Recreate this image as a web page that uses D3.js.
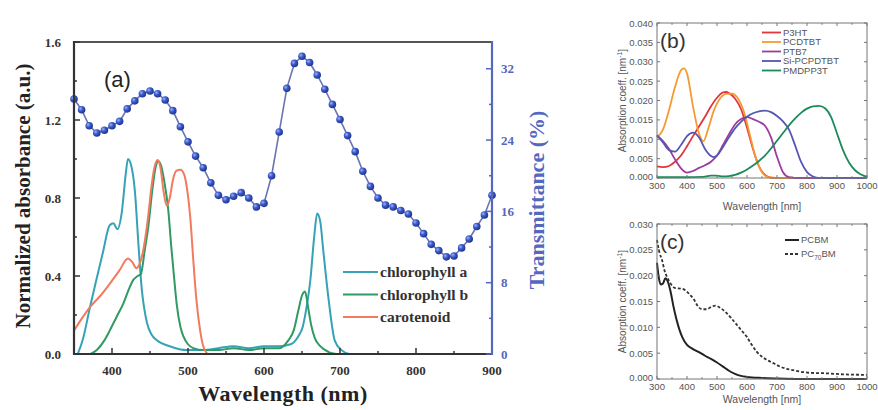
<!DOCTYPE html>
<html>
<head>
<meta charset="utf-8">
<script src="https://cdn.jsdelivr.net/npm/d3@7"></script>
<style>
  body { margin: 0; background: #fff; }
  svg { display: block; }
</style>
</head>
<body>
<div id="chart"></div>
<script>
/* DATA */
// panel (a): absorbance of pigments (wavelength nm, normalized absorbance)
const chlA = [[355,0],[362,0.08],[371,0.24],[380,0.39],[388,0.52],[397,0.66],[402,0.67],[407,0.64],[413,0.73],[418,0.92],[421,1.0],[425,0.97],[430,0.84],[435,0.55],[439,0.34],[446,0.16],[452,0.1],[459,0.07],[476,0.04],[498,0.02],[520,0.02],[540,0.03],[560,0.04],[580,0.03],[600,0.04],[620,0.04],[635,0.05],[645,0.09],[651,0.14],[656,0.24],[661,0.38],[666,0.6],[670,0.72],[674,0.68],[678,0.53],[685,0.28],[693,0.07],[702,0.02],[712,0]];
const chlB = [[372,0],[380,0.02],[390,0.07],[397,0.12],[406,0.19],[415,0.26],[422,0.33],[428,0.38],[434,0.4],[438,0.41],[443,0.53],[448,0.66],[453,0.84],[457,0.95],[461,0.99],[465,0.96],[469,0.88],[474,0.74],[478,0.55],[482,0.38],[485,0.26],[490,0.14],[494,0.09],[500,0.05],[507,0.03],[520,0.02],[540,0.02],[560,0.03],[580,0.02],[600,0.03],[620,0.03],[632,0.07],[639,0.12],[645,0.22],[650,0.3],[654,0.32],[658,0.24],[662,0.15],[667,0.08],[674,0.04],[685,0.01],[695,0]];
const carot = [[350,0.12],[360,0.18],[371,0.24],[385,0.3],[397,0.36],[410,0.43],[421,0.49],[427,0.47],[432,0.44],[436,0.46],[440,0.51],[444,0.6],[448,0.72],[452,0.86],[456,0.96],[460,0.995],[464,0.95],[468,0.83],[472,0.76],[476,0.8],[480,0.89],[485,0.94],[490,0.945],[495,0.92],[499,0.84],[503,0.7],[507,0.48],[511,0.28],[516,0.12],[521,0.03],[527,0],[900,0]];

// panel (a): transmittance (%) sampled every 10 nm
const transWl = d3.range(350, 901, 10);
const transVal = [28.6,27.4,25.6,24.8,25.1,25.6,26.1,27.5,28.4,29.2,29.5,29.2,28.5,27.3,25.5,23.8,22.2,20.9,19.2,17.8,17.3,17.7,18.1,17.5,16.5,16.9,20.0,24.9,29.8,32.6,33.4,32.7,31.3,29.7,28.0,26.3,24.5,22.7,20.5,18.8,17.5,16.7,16.5,16.1,15.7,14.7,13.5,12.3,11.6,10.9,11.0,11.9,12.9,14.3,15.6,17.8];

const pigmentNames = ["chlorophyll a", "chlorophyll b", "carotenoid"];

// panel (b): polymer absorption coefficients
const p3ht = [[300,0.003],[320,0.0028],[340,0.0031],[360,0.0042],[380,0.0058],[400,0.0082],[420,0.0108],[440,0.0133],[460,0.0158],[480,0.0185],[500,0.0207],[520,0.0221],[530,0.0222],[540,0.0219],[560,0.0205],[580,0.0178],[600,0.013],[620,0.0075],[640,0.003],[660,0.0008],[680,0.0001],[700,0],[1000,0]];
const pcdtbt = [[300,0.0105],[320,0.0125],[340,0.0175],[360,0.0235],[380,0.0278],[390,0.0283],[400,0.027],[420,0.0185],[440,0.0115],[455,0.0095],[470,0.0125],[490,0.0175],[510,0.0205],[530,0.0217],[550,0.0218],[570,0.0205],[590,0.017],[610,0.011],[630,0.005],[650,0.0015],[670,0.0002],[700,0],[1000,0]];
const ptb7 = [[300,0.011],[320,0.0095],[340,0.0075],[360,0.0048],[380,0.0025],[400,0.0014],[420,0.0018],[440,0.0026],[460,0.0033],[480,0.0042],[500,0.0058],[520,0.0085],[540,0.0113],[560,0.0138],[580,0.0152],[600,0.0157],[620,0.0152],[640,0.0145],[660,0.0135],[680,0.0105],[700,0.0055],[720,0.0015],[740,0.0002],[760,0],[1000,0]];
const sipcpdtbt = [[300,0.011],[320,0.0092],[340,0.0072],[360,0.0068],[380,0.0085],[400,0.0108],[420,0.0117],[440,0.0105],[460,0.0075],[480,0.0057],[490,0.0054],[500,0.0058],[520,0.008],[540,0.0105],[560,0.0128],[580,0.0145],[600,0.0158],[620,0.0167],[640,0.0172],[660,0.0174],[680,0.017],[700,0.016],[720,0.0146],[740,0.0125],[760,0.0085],[780,0.0042],[800,0.0015],[820,0.0004],[840,0],[1000,0]];
const pmdpp3t = [[300,0.0002],[350,0.0002],[400,0.0002],[450,0.0003],[480,0.0006],[500,0.0006],[520,0.0004],[540,0.0005],[560,0.0008],[580,0.0014],[600,0.0022],[620,0.0032],[640,0.0044],[660,0.0058],[680,0.0076],[700,0.0096],[720,0.0116],[740,0.0136],[760,0.0153],[780,0.0168],[800,0.0179],[820,0.0185],[840,0.0186],[860,0.018],[880,0.0158],[900,0.0115],[920,0.0072],[940,0.004],[960,0.002],[980,0.0009],[1000,0.0003]];
const polymerNames = ["P3HT", "PCDTBT", "PTB7", "Si-PCPDTBT", "PMDPP3T"];

// panel (c): fullerene absorption coefficients
const pcbm = [[300,0.0225],[305,0.02],[312,0.0183],[320,0.0185],[328,0.0195],[335,0.019],[345,0.017],[355,0.014],[365,0.0115],[375,0.0095],[385,0.008],[400,0.0066],[420,0.0058],[440,0.0052],[460,0.0045],[480,0.0039],[500,0.0032],[520,0.0024],[540,0.0016],[560,0.001],[580,0.0006],[600,0.0004],[650,0.0002],[700,0.0001],[800,0],[1000,0]];
const pc70bm = [[300,0.0269],[308,0.0245],[317,0.023],[325,0.021],[333,0.0198],[345,0.0185],[361,0.0176],[380,0.0175],[394,0.0172],[410,0.0163],[422,0.0155],[435,0.0142],[450,0.0135],[466,0.0135],[482,0.014],[495,0.0142],[510,0.0138],[533,0.0127],[550,0.0116],[566,0.0105],[583,0.0093],[599,0.0082],[615,0.0067],[632,0.0053],[650,0.0043],[666,0.0037],[690,0.003],[710,0.0024],[730,0.002],[754,0.0017],[780,0.0014],[810,0.0012],[865,0.0011],[920,0.0009],[1000,0.0008]];

/* SETUP */
const width = 878, height = 410;
const svg = d3.select("#chart").append("svg")
  .attr("width", width).attr("height", height);

const serif = "'Liberation Serif', 'DejaVu Serif', serif";
const sans = "'Liberation Sans', Arial, sans-serif";

/* PANEL (a) */
const xA = d3.scaleLinear().domain([350, 900]).range([74, 492]);
const yA = d3.scaleLinear().domain([0, 1.6]).range([354, 42]);
const yT = d3.scaleLinear().domain([0, 35]).range([354, 42]);

const pigColors = ["#35a2b6", "#2f9a62", "#f27a5e"];
const blueAxis = "#5468bf";

// sphere gradient for markers
const defs = svg.append("defs");
const grad = defs.append("radialGradient").attr("id", "ball")
  .attr("cx", "35%").attr("cy", "35%").attr("r", "65%");
grad.append("stop").attr("offset", "0%").attr("stop-color", "#9fb3ff");
grad.append("stop").attr("offset", "45%").attr("stop-color", "#3d5ccc");
grad.append("stop").attr("offset", "100%").attr("stop-color", "#1e3590");

const line = d3.line()
  .x(d => xA(d[0])).y(d => yA(d[1]))
  .curve(d3.curveMonotoneX);

[chlA, chlB, carot].forEach((s, i) => {
  svg.append("path").datum(s)
    .attr("d", line)
    .attr("fill", "none")
    .attr("stroke", pigColors[i])
    .attr("stroke-width", 2);
});

// transmittance line + markers
const trans = transWl.map((w, i) => [w, transVal[i]]);
svg.append("path").datum(trans)
  .attr("d", d3.line().x(d => xA(d[0])).y(d => yT(d[1])))
  .attr("fill", "none").attr("stroke", "#6a74b0").attr("stroke-width", 1.6);
svg.selectAll("circle.tr").data(trans).join("circle")
  .attr("class", "tr")
  .attr("cx", d => xA(d[0])).attr("cy", d => yT(d[1]))
  .attr("r", 3.8).attr("fill", "url(#ball)");

// frame
svg.append("line").attr("x1", 73).attr("x2", 493).attr("y1", 42).attr("y2", 42)
  .attr("stroke", "#555").attr("stroke-width", 2.2);

// axes
const axA = svg.append("g").attr("font-family", serif);
// bottom
const xTicksMaj = [400, 500, 600, 700, 800, 900];
const xTicksMin = [350, 450, 550, 650, 750, 850];
axA.append("line").attr("x1", 73).attr("x2", 493).attr("y1", 354).attr("y2", 354)
  .attr("stroke", "#333").attr("stroke-width", 2.2);
axA.selectAll("line.xt").data(xTicksMaj.concat(xTicksMin)).join("line")
  .attr("class", "xt")
  .attr("x1", d => xA(d)).attr("x2", d => xA(d))
  .attr("y1", 354).attr("y2", d => xTicksMaj.includes(d) ? 348 : 351)
  .attr("stroke", "#333").attr("stroke-width", 1.5);
axA.selectAll("text.xl").data(xTicksMaj).join("text")
  .attr("class", "xl")
  .attr("x", d => xA(d)).attr("y", 375)
  .attr("text-anchor", "middle").attr("font-size", 13).attr("font-weight", "bold")
  .attr("fill", "#333").text(d => d);
// left
const yTicksMaj = [0, 0.4, 0.8, 1.2, 1.6];
const yTicksMin = [0.2, 0.6, 1.0, 1.4];
axA.append("line").attr("x1", 74).attr("x2", 74).attr("y1", 41).attr("y2", 355)
  .attr("stroke", "#333").attr("stroke-width", 2.2);
axA.selectAll("line.yt").data(yTicksMaj.concat(yTicksMin)).join("line")
  .attr("class", "yt")
  .attr("x1", 74).attr("x2", d => yTicksMaj.includes(d) ? 80 : 77)
  .attr("y1", d => yA(d)).attr("y2", d => yA(d))
  .attr("stroke", "#333").attr("stroke-width", 1.5);
axA.selectAll("text.yl").data(yTicksMaj).join("text")
  .attr("class", "yl")
  .attr("x", 61).attr("y", d => yA(d) + 4.5)
  .attr("text-anchor", "end").attr("font-size", 13).attr("font-weight", "bold")
  .attr("fill", "#333").text(d => d.toFixed(1));
// right (transmittance)
const tTicksMaj = [0, 8, 16, 24, 32];
const tTicksMin = [4, 12, 20, 28];
axA.append("line").attr("x1", 492).attr("x2", 492).attr("y1", 41).attr("y2", 355)
  .attr("stroke", blueAxis).attr("stroke-width", 2.2);
axA.selectAll("line.tt").data(tTicksMaj.concat(tTicksMin)).join("line")
  .attr("class", "tt")
  .attr("x1", 492).attr("x2", d => tTicksMaj.includes(d) ? 486 : 489)
  .attr("y1", d => yT(d)).attr("y2", d => yT(d))
  .attr("stroke", blueAxis).attr("stroke-width", 1.5);
axA.selectAll("text.tl").data(tTicksMaj).join("text")
  .attr("class", "tl")
  .attr("x", 501).attr("y", d => yT(d) + 4.5)
  .attr("text-anchor", "start").attr("font-size", 13).attr("font-weight", "bold")
  .attr("fill", blueAxis).text(d => d);

// axis titles
axA.append("text")
  .attr("transform", "translate(30,196) rotate(-90)")
  .attr("text-anchor", "middle").attr("font-size", 21).attr("font-weight", "bold")
  .attr("fill", "#222").text("Normalized absorbance (a.u.)");
axA.append("text")
  .attr("x", 283).attr("y", 401)
  .attr("text-anchor", "middle").attr("font-size", 22).attr("font-weight", "bold")
  .attr("fill", "#222").attr("letter-spacing", "0.5px").text("Wavelength (nm)");
axA.append("text")
  .attr("transform", "translate(544,200) rotate(-90)")
  .attr("text-anchor", "middle").attr("font-size", 22).attr("font-weight", "bold")
  .attr("fill", blueAxis).text("Transmittance (%)");

svg.append("text").attr("x", 104).attr("y", 87)
  .attr("font-family", sans).attr("font-size", 22).attr("fill", "#222").text("(a)");

// legend (a)
const legA = svg.append("g").attr("font-family", serif);
pigmentNames.forEach((n, i) => {
  const y = 272 + i * 22.5;
  legA.append("line").attr("x1", 343).attr("x2", 378).attr("y1", y).attr("y2", y)
    .attr("stroke", pigColors[i]).attr("stroke-width", 2);
  legA.append("text").attr("x", 380).attr("y", y + 5)
    .attr("font-size", 15.5).attr("font-weight", "bold").attr("fill", "#333").text(n);
});

/* PANELS (b) and (c) */
function smallPanel(cfg) {
  const x = d3.scaleLinear().domain([300, 1000]).range([657, 867]);
  const y = d3.scaleLinear().domain([0, cfg.ymax]).range([cfg.bottom, cfg.top]);
  const g = svg.append("g").attr("font-family", sans);

  const ln = d3.line().x(d => x(d[0])).y(d => y(d[1])).curve(d3.curveMonotoneX);
  cfg.series.forEach(s => {
    g.append("path").datum(s.data).attr("d", ln)
      .attr("fill", "none").attr("stroke", s.color)
      .attr("stroke-width", s.width || 1.8)
      .attr("stroke-dasharray", s.dash || null);
  });

  g.append("rect").attr("x", 657).attr("y", cfg.top)
    .attr("width", 210).attr("height", cfg.bottom - cfg.top)
    .attr("fill", "none").attr("stroke", "#777").attr("stroke-width", 1);

  const xt = d3.range(300, 1001, 50);
  const yt = d3.range(0, cfg.ymax + 1e-9, cfg.ystep);
  xt.forEach(v => {
    const len = v % 100 === 0 ? 3 : 1.8;
    g.append("line").attr("x1", x(v)).attr("x2", x(v)).attr("y1", cfg.bottom).attr("y2", cfg.bottom - len).attr("stroke", "#777");
    g.append("line").attr("x1", x(v)).attr("x2", x(v)).attr("y1", cfg.top).attr("y2", cfg.top + len).attr("stroke", "#777");
  });
  yt.forEach(v => {
    g.append("line").attr("x1", 657).attr("x2", 660).attr("y1", y(v)).attr("y2", y(v)).attr("stroke", "#777");
    g.append("line").attr("x1", 867).attr("x2", 864).attr("y1", y(v)).attr("y2", y(v)).attr("stroke", "#777");
  });

  g.selectAll("text.xl").data(d3.range(300, 1001, 100)).join("text")
    .attr("class", "xl")
    .attr("x", d => x(d)).attr("y", cfg.bottom + 11)
    .attr("text-anchor", "middle").attr("font-size", 9.5).attr("fill", "#555").text(d => d);
  g.selectAll("text.yl").data(yt).join("text")
    .attr("class", "yl")
    .attr("x", 653).attr("y", d => y(d) + (d === 0 ? 2 : 3.5))
    .attr("text-anchor", "end").attr("font-size", 9.5).attr("fill", "#555").text(d => d.toFixed(3));

  g.append("text").attr("x", 762).attr("y", cfg.titleY)
    .attr("text-anchor", "middle").attr("font-size", 10.5).attr("fill", "#555").text("Wavelength [nm]");
  const yl = g.append("text")
    .attr("transform", `translate(626,${(cfg.top + cfg.bottom) / 2}) rotate(-90)`)
    .attr("text-anchor", "middle").attr("font-size", 10).attr("fill", "#555");
  yl.append("tspan").text("Absorption coeff. [nm");
  yl.append("tspan").attr("dy", -4).attr("font-size", 7).text("-1");
  yl.append("tspan").attr("dy", 4).text("]");

  g.append("text").attr("x", 660).attr("y", cfg.top + 25)
    .attr("font-size", 21).attr("fill", "#333").text(cfg.label);

  cfg.series.forEach((s, i) => {
    const ly = cfg.legTop + i * cfg.legStep;
    g.append("line").attr("x1", cfg.legX).attr("x2", cfg.legX + cfg.legLen)
      .attr("y1", ly).attr("y2", ly).attr("stroke", s.color)
      .attr("stroke-width", s.width || 1.8).attr("stroke-dasharray", s.dash || null);
    const t = g.append("text").attr("x", cfg.legX + cfg.legLen + 2).attr("y", ly + 3.3)
      .attr("font-size", 9.5).attr("fill", "#555");
    s.name.forEach(part => {
      if (part.sub) t.append("tspan").attr("dy", 2.5).attr("font-size", 6.5).text(part.sub);
      else t.append("tspan").attr("dy", part.after ? -2.5 : 0).text(part.text);
    });
  });
}

const polyColors = ["#e0363c", "#f59a32", "#9c3c9e", "#5457b3", "#1d8a5b"];
smallPanel({
  top: 23, bottom: 178, ymax: 0.040, ystep: 0.005, label: "(b)", titleY: 210,
  legX: 762, legLen: 19, legTop: 32.5, legStep: 9.5,
  series: [p3ht, pcdtbt, ptb7, sipcpdtbt, pmdpp3t].map((d, i) => ({
    data: d, color: polyColors[i], name: [{ text: polymerNames[i] }]
  }))
});

smallPanel({
  top: 224, bottom: 379, ymax: 0.030, ystep: 0.005, label: "(c)", titleY: 403,
  legX: 785, legLen: 14, legTop: 240, legStep: 14,
  series: [
    { data: pcbm, color: "#222", width: 2, name: [{ text: "PCBM" }] },
    { data: pc70bm, color: "#333", width: 1.8, dash: "3,2",
      name: [{ text: "PC" }, { sub: "70" }, { text: "BM", after: true }] }
  ]
});
</script>
</body>
</html>
